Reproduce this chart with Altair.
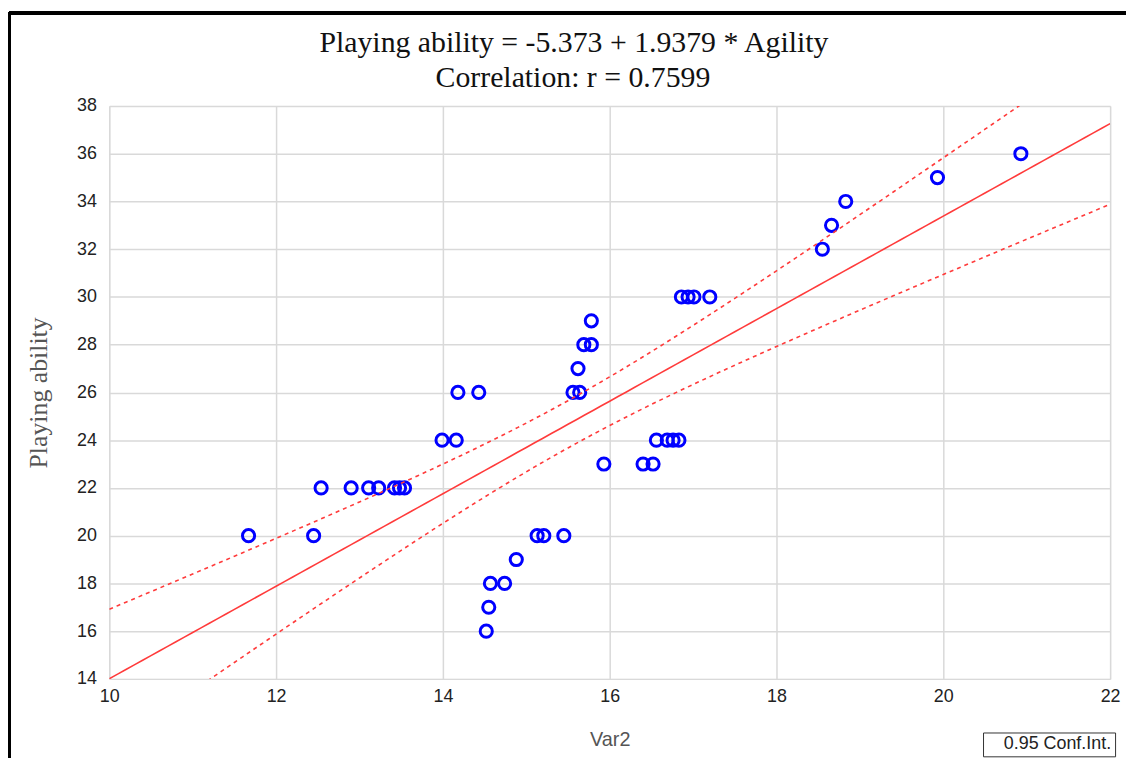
import altair as alt
import numpy as np
import pandas as pd

# ---- data ----
agility = [14.52, 14.55, 14.57, 14.74, 14.88,
           11.67, 12.45, 15.13, 15.21, 15.45,
           12.54, 12.90, 13.11, 13.23, 13.42, 13.48, 13.54,
           15.93, 16.40, 16.52,
           13.99, 14.16, 16.56, 16.69, 16.76, 16.83,
           14.18, 14.43, 15.56, 15.64,
           15.62,
           15.69, 15.78,
           15.78,
           16.86, 16.94, 17.01, 17.20,
           18.55, 18.66, 18.83, 19.93, 20.93]
playing = [16, 17, 18, 18, 19,
           20, 20, 20, 20, 20,
           22, 22, 22, 22, 22, 22, 22,
           23, 23, 23,
           24, 24, 24, 24, 24, 24,
           26, 26, 26, 26,
           27,
           28, 28,
           29,
           30, 30, 30, 30,
           32, 33, 34, 35, 36]
intercept = -5.373
slope = 1.9379
x_ticks = [10, 12, 14, 16, 18, 20, 22]
y_ticks = [14, 16, 18, 20, 22, 24, 26, 28, 30, 32, 34, 36, 38]
title_lines = ["Playing ability = -5.373 + 1.9379 * Agility", "Correlation: r = 0.7599"]
ci_label = "0.95 Conf.Int."

pts = pd.DataFrame({"x": agility, "y": playing})

# regression line and 95% confidence band from the data
xa = np.array(agility)
ya = np.array(playing)
n = len(xa)
xbar = xa.mean()
sxx = ((xa - xbar) ** 2).sum()
resid = ya - (intercept + slope * xa)
s = np.sqrt((resid ** 2).sum() / (n - 2))
t = 2.02
xs = np.linspace(10, 22, 121)
fit = intercept + slope * xs
half = t * s * np.sqrt(1.0 / n + (xs - xbar) ** 2 / sxx)
line_df = pd.DataFrame({"x": xs, "y": fit})
ci_df = pd.concat([
    pd.DataFrame({"x": xs, "y": fit + half, "band": "upper", "lab": ci_label}),
    pd.DataFrame({"x": xs, "y": fit - half, "band": "lower", "lab": ci_label}),
])
title_df = pd.DataFrame({"line": [0, 1], "text": title_lines})

xscale = alt.Scale(domain=[10, 22], nice=False, zero=False)
yscale = alt.Scale(domain=[14, 38], nice=False, zero=False)

xaxis = alt.Axis(values=x_ticks, format="d", title="Var2", grid=True, tickSize=0, domain=False,
                 labelFlush=False, labelFont="Liberation Sans", labelFontSize=18,
                 labelColor="#222", labelPadding=9, titleFont="Liberation Sans",
                 titleFontSize=20, titleFontWeight="normal", titleColor="#555",
                 titlePadding=24, gridColor="#d9d9d9", gridWidth=1.5)
yaxis = alt.Axis(values=y_ticks, format="d", title="Playing ability", grid=True, tickSize=0,
                 domain=False, labelFlush=False, labelFont="Liberation Sans", labelFontSize=18,
                 labelColor="#222", labelPadding=13, titleFont="Liberation Serif",
                 titleFontSize=26, titleFontWeight="normal", titleColor="#555",
                 titlePadding=25, gridColor="#d9d9d9", gridWidth=1.5)

points = alt.Chart(pts).mark_point(shape="circle", filled=False, color="#0000ff",
                                   size=150, strokeWidth=3, opacity=1).encode(
    x=alt.X("x:Q", scale=xscale, axis=xaxis),
    y=alt.Y("y:Q", scale=yscale, axis=yaxis),
)

reg = alt.Chart(line_df).mark_line(color="#ff3b3b", strokeWidth=1.6, clip=True).encode(
    x=alt.X("x:Q", scale=xscale),
    y=alt.Y("y:Q", scale=yscale),
)

ci = alt.Chart(ci_df).mark_line(strokeWidth=1.6, strokeDash=[4, 4], clip=True).encode(
    x=alt.X("x:Q", scale=xscale),
    y=alt.Y("y:Q", scale=yscale),
    detail="band:N",
    color=alt.Color("lab:N", scale=alt.Scale(domain=[ci_label], range=["#ff3b3b"]),
                    legend=alt.Legend(title=None, orient="none", legendX=880, legendY=631,
                                      strokeColor="#333", fillColor="white", padding=3,
                                      symbolSize=0, symbolOpacity=0, symbolStrokeWidth=0,
                                      labelFont="Liberation Sans", labelFontSize=18,
                                      labelColor="#222", labelOffset=0)),
)

title1 = alt.Chart(title_df).transform_filter("datum.line == 0").mark_text(
    font="Liberation Serif", fontSize=30, color="#111", align="center", baseline="middle"
).encode(x=alt.value(468), y=alt.value(-63), text="text:N")
title2 = alt.Chart(title_df).transform_filter("datum.line == 1").mark_text(
    font="Liberation Serif", fontSize=30, color="#111", align="center", baseline="middle"
).encode(x=alt.value(467), y=alt.value(-28), text="text:N")

frame_top = alt.Chart(pts).mark_rule(color="black", strokeWidth=3, clip=False).encode(
    x=alt.value(-101), x2=alt.value(1030), y=alt.value(-94))
frame_left = alt.Chart(pts).mark_rule(color="black", strokeWidth=3, clip=False).encode(
    x=alt.value(-101), y=alt.value(-94), y2=alt.value(660))

chart = alt.layer(points, reg, ci, title1, title2, frame_top, frame_left).properties(
    width=1008, height=577,
    autosize=alt.AutoSizeParams(type="none"),
    padding={"left": 102, "top": 96, "right": 16, "bottom": 77},
).configure_view(stroke="#555", strokeWidth=1.5).configure(background="white")

chart.save("out.html", embed_options={"renderer": "svg", "actions": False})
